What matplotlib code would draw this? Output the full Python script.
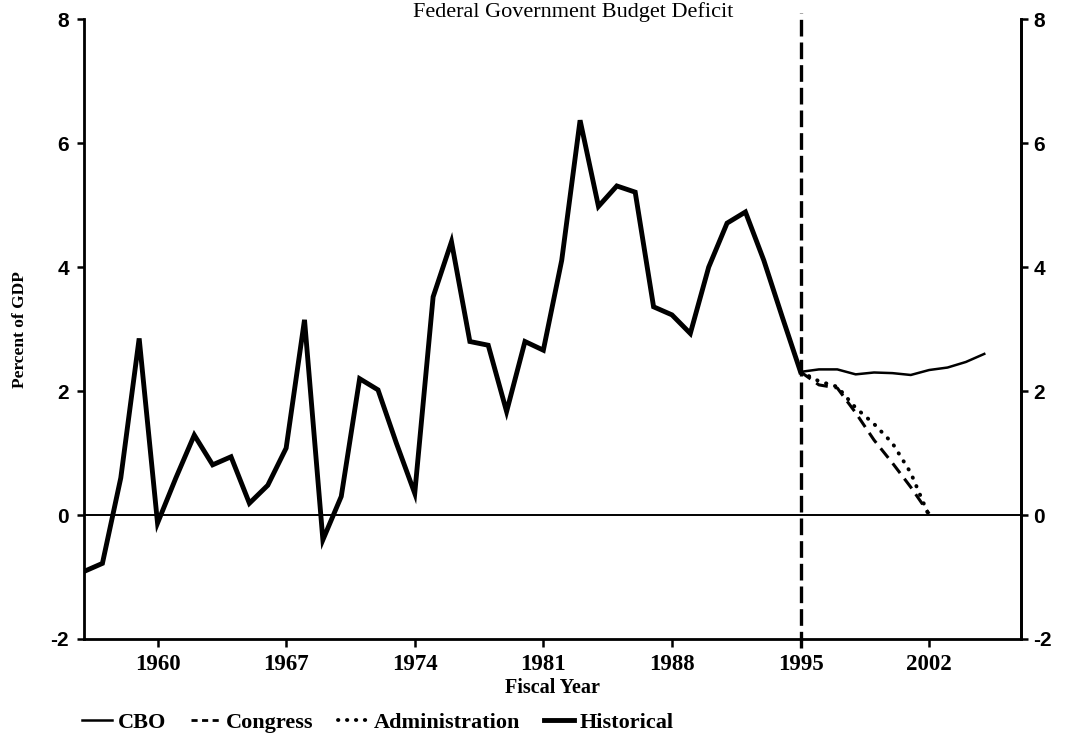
import matplotlib
matplotlib.use('Agg')
import matplotlib.pyplot as plt
from matplotlib.lines import Line2D

# Federal budget deficit, percent of GDP
hist_years = list(range(1956, 1996))
historical = [-0.91, -0.78, 0.60, 2.85, -0.13, 0.60, 1.29, 0.81, 0.94, 0.19,
              0.48, 1.08, 3.15, -0.40, 0.30, 2.20, 2.02, 1.16, 0.35, 3.52,
              4.41, 2.80, 2.74, 1.67, 2.80, 2.66, 4.11, 6.37, 4.98, 5.31,
              5.21, 3.36, 3.23, 2.93, 4.00, 4.71, 4.89, 4.11, 3.20, 2.31]

cbo_years = list(range(1995, 2006))
cbo = [2.31, 2.35, 2.35, 2.27, 2.30, 2.29, 2.26, 2.34, 2.38, 2.47, 2.60]

proj_years = list(range(1995, 2003))
congress = [2.31, 2.10, 2.05, 1.65, 1.21, 0.84, 0.45, 0.02]
administration = [2.31, 2.16, 2.07, 1.73, 1.47, 1.16, 0.68, -0.02]

xticks = [1960, 1967, 1974, 1981, 1988, 1995, 2002]
yticks = [-2, 0, 2, 4, 6, 8]

serif = 'Liberation Serif'
sans = 'Liberation Sans'

fig = plt.figure(figsize=(10.68, 7.40), dpi=100)
ax = fig.add_axes([0.0787, 0.1365, 0.8773, 0.8375])

ax.axhline(0, color='black', lw=1.4, zorder=1)
ax.plot([1995, 1995], [-2.15, 8.1], color='black', lw=2.4,
        linestyle=(0, (5, 1.8)), clip_on=False, zorder=2)

ax.plot(cbo_years, cbo, color='black', lw=1.8, zorder=3)
ax.plot(proj_years, congress, color='black', lw=2.2,
        linestyle=(0, (4, 2.3)), zorder=3)
ax.plot(proj_years, administration, color='black', lw=2.8,
        linestyle=(0, (0.1, 2.3)), dash_capstyle='round', zorder=3)
ax.plot(hist_years, historical, color='black', lw=3.5,
        solid_joinstyle='miter', zorder=4)

ax.set_xlim(1956, 2007)
ax.set_ylim(-2, 8)
ax.set_xticks(xticks)
ax.set_yticks(yticks)
ax.set_xticklabels([str(t) for t in xticks], fontfamily=serif,
                   fontweight='bold', fontsize=16.5)
ax.set_yticklabels([str(t) for t in yticks], fontfamily=sans,
                   fontweight='bold', fontsize=15)
ax.tick_params(axis='x', direction='out', length=6, width=1.8, pad=5)
ax.tick_params(axis='y', direction='out', length=5, width=1.8, pad=6)

ax.spines['top'].set_visible(False)
for side in ['left', 'right', 'bottom']:
    ax.spines[side].set_linewidth(2)

ax2 = ax.twinx()
ax2.set_ylim(-2, 8)
ax2.set_yticks(yticks)
ax2.set_yticklabels([str(t) for t in yticks], fontfamily=sans,
                    fontweight='bold', fontsize=15)
ax2.tick_params(axis='y', direction='out', length=5, width=1.8, pad=4)
ax2.spines['top'].set_visible(False)
ax2.spines['right'].set_linewidth(2)

ax.set_xlabel('Fiscal Year', fontfamily=serif, fontweight='bold',
              fontsize=14.5, labelpad=2)
ax.set_ylabel('Percent of GDP', fontfamily=serif, fontweight='bold',
              fontsize=12.5, labelpad=16)

fig.text(0.537, 0.977, 'Federal Government Budget Deficit', ha='center',
         va='baseline', fontfamily=serif, fontsize=16)

# legend proxies with shorter dash patterns, as in the original key
handles = [
    Line2D([], [], color='black', lw=1.8),
    Line2D([], [], color='black', lw=2.0, linestyle=(0, (2.2, 1.6))),
    Line2D([], [], color='black', lw=2.8, linestyle=(0, (0.1, 2.2)),
           dash_capstyle='round'),
    Line2D([], [], color='black', lw=3.5),
]
labels = ['CBO', 'Congress', 'Administration', 'Historical']
ax.legend(handles, labels, loc='center left', bbox_to_anchor=(0.077, 0.024),
          bbox_transform=fig.transFigure, ncol=4, frameon=False,
          handlelength=1.35, handletextpad=0.25, columnspacing=1.1,
          borderaxespad=0, borderpad=0,
          prop={'family': serif, 'weight': 'bold', 'size': 16})

fig.savefig('out.png', dpi=100)
